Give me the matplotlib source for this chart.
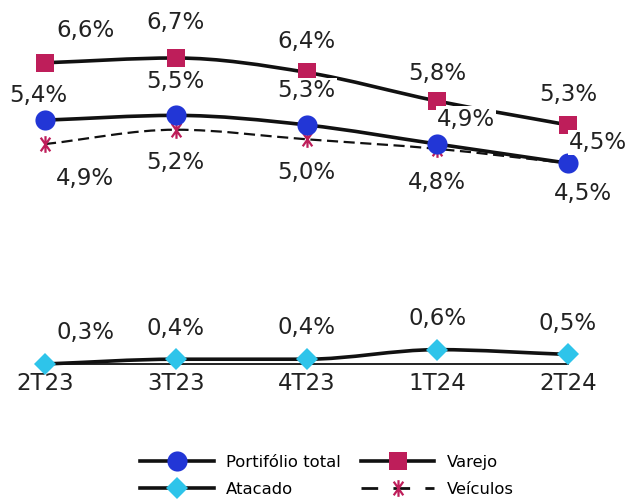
import matplotlib
matplotlib.use("Agg")
import matplotlib.pyplot as plt
import numpy as np
from matplotlib.path import Path
from matplotlib.patches import PathPatch
from matplotlib.lines import Line2D

plt.rcParams['font.family'] = ['DejaVu Sans']

categories = ["2T23", "3T23", "4T23", "1T24", "2T24"]
portfolio = [5.4, 5.5, 5.3, 4.9, 4.5]
varejo = [6.6, 6.7, 6.4, 5.8, 5.3]
atacado = [0.3, 0.4, 0.4, 0.6, 0.5]
veiculos = [4.9, 5.2, 5.0, 4.8, 4.5]

series_names = ["Portifólio total", "Varejo", "Atacado", "Veículos"]

BLACK = "#111111"
BLUE = "#2236D6"
CRIMSON = "#BE1E5A"
CYAN = "#2EC4EA"

W, H = 631, 499
fig = plt.figure(figsize=(W / 100, H / 100), dpi=100)
ax = fig.add_axes([45 / W, 1 - 364 / H, (568 - 45) / W, (364 - 58) / H])
ax.set_xlim(0, 4)
ax.set_ylim(0.3, 6.7)
x = np.arange(len(categories))

# asterisk-like marker: vertical bar + two diagonals
ang = np.deg2rad(55)
ca, sa = np.cos(ang), np.sin(ang)
star_path = Path(
    [(0, -1), (0, 1), (-ca, -sa), (ca, sa), (-ca, sa), (ca, -sa)],
    [Path.MOVETO, Path.LINETO, Path.MOVETO, Path.LINETO, Path.MOVETO, Path.LINETO],
)


def monotone_path(xs, ys):
    xs = np.asarray(xs, float)
    ys = np.asarray(ys, float)
    n = len(xs)
    dx = np.diff(xs)
    delta = np.diff(ys) / dx
    m = np.zeros(n)
    m[0] = delta[0]
    m[-1] = delta[-1]
    for i in range(1, n - 1):
        if delta[i - 1] * delta[i] <= 0:
            m[i] = 0
        else:
            m[i] = (delta[i - 1] + delta[i]) / 2
    for i in range(n - 1):
        if delta[i] == 0:
            m[i] = 0
            m[i + 1] = 0
            continue
        a = m[i] / delta[i]
        b = m[i + 1] / delta[i]
        s = a * a + b * b
        if s > 9:
            t = 3 / np.sqrt(s)
            m[i] = t * a * delta[i]
            m[i + 1] = t * b * delta[i]
    verts = [(xs[0], ys[0])]
    codes = [Path.MOVETO]
    for i in range(n - 1):
        h = dx[i] / 3
        verts += [(xs[i] + h, ys[i] + h * m[i]),
                  (xs[i + 1] - h, ys[i + 1] - h * m[i + 1]),
                  (xs[i + 1], ys[i + 1])]
        codes += [Path.CURVE4] * 3
    return Path(verts, codes)


def draw_series(ys, color, marker, ms, ls, lw, z, mew=0):
    ax.add_patch(PathPatch(monotone_path(x, ys), fill=False, edgecolor=BLACK,
                           lw=lw, linestyle=ls, zorder=z, clip_on=False,
                           capstyle='butt'))
    if marker is star_path:
        ax.plot(x, ys, linestyle='none', marker=marker, ms=ms, markeredgecolor=color,
                mew=mew, zorder=z + 0.5, clip_on=False)
    else:
        ax.plot(x, ys, linestyle='none', marker=marker, ms=ms, color=color,
                markeredgewidth=0, zorder=z + 0.5, clip_on=False)


draw_series(varejo, CRIMSON, 's', 13, '-', 2.6, 3)
draw_series(veiculos, CRIMSON, star_path, 12, (0, (5, 2.5)), 1.6, 4, mew=1.6)
draw_series(portfolio, BLUE, 'o', 14.5, '-', 2.6, 5)
draw_series(atacado, CYAN, 'D', 11, '-', 2.6, 6)

label_off = {
    "varejo": [(40, 32), (0, 36), (0, 31), (0, 28), (0, 30)],
    "portfolio": [(-7, 25), (0, 34), (0, 34), (29, 25), (30, 21)],
    "veiculos": [(40, -34), (0, -33), (0, -33), (0, -34), (15, -30)],
    "atacado": [(40, 31), (0, 31), (0, 32), (0, 31), (0, 31)],
}
for key, ys in [("varejo", varejo), ("portfolio", portfolio),
                ("veiculos", veiculos), ("atacado", atacado)]:
    for i, v in enumerate(ys):
        dx, dy = label_off[key][i]
        ax.annotate(f"{v:.1f}%".replace(".", ","), (x[i], v), xytext=(dx, dy),
                    textcoords='offset pixels', ha='center', va='center',
                    fontsize=16.5, color="#222222", zorder=10,
                    bbox=dict(boxstyle='square,pad=0.05', fc='white', ec='none'),
                    annotation_clip=False)

for s in ["top", "right", "left"]:
    ax.spines[s].set_visible(False)
ax.spines["bottom"].set_color(BLACK)
ax.spines["bottom"].set_linewidth(1.3)
ax.spines["bottom"].set_zorder(2)
ax.set_yticks([])
ax.set_xticks(x)
ax.set_xticklabels(categories, fontsize=16.5, color="#222222")
ax.tick_params(axis='x', length=0, pad=6)

handles = [
    Line2D([], [], color=BLACK, lw=2.6, marker='o', ms=14.5, markerfacecolor=BLUE, markeredgewidth=0),
    Line2D([], [], color=BLACK, lw=2.6, marker='D', ms=11, markerfacecolor=CYAN, markeredgewidth=0),
    Line2D([], [], color=BLACK, lw=2.6, marker='s', ms=13, markerfacecolor=CRIMSON, markeredgewidth=0),
    Line2D([], [], color=BLACK, lw=2.0, linestyle=(0, (6, 5.5)), marker=star_path, ms=12,
           markeredgecolor=CRIMSON, mew=1.6),
]
labels = [series_names[0], series_names[2], series_names[1], series_names[3]]
fig.legend(handles, labels, loc='center', bbox_to_anchor=(327 / W, 1 - 476 / H),
           ncol=2, frameon=False, fontsize=11.8, handlelength=4.5,
           handletextpad=0.75, columnspacing=1.2, labelspacing=0.75)

fig.savefig("out.png", dpi=100)
